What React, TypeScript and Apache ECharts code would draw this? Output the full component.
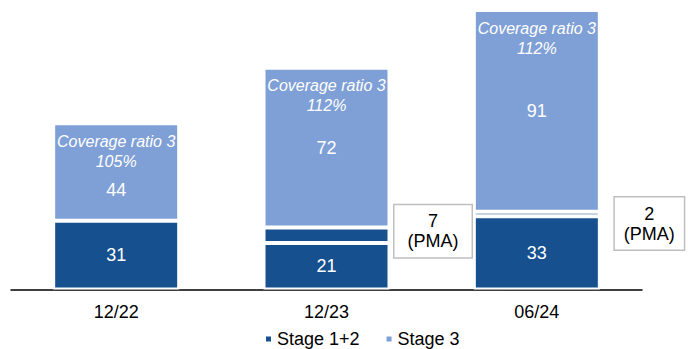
import React, { useEffect, useRef } from "react";
import * as echarts from "echarts";

const categories = ["12/22", "12/23", "06/24"];
const stage12 = [31, 21, 33];
const pma: (number | string)[] = ["-", 7, 2];
const stage3 = [44, 72, 91];
const coverage = ["105%", "112%", "112%"];
const totals = [75, 100, 126];

const DARK = "#16508F";
const LIGHT = "#7FA0D6";
const FONT = "'Liberation Sans', Arial, sans-serif";

export default function App() {
  const ref = useRef<HTMLDivElement>(null);
  useEffect(() => {
    if (!ref.current) return;
    const chart = echarts.init(ref.current, undefined, { renderer: "svg" });
    const border = { borderColor: "#ffffff", borderWidth: 2 };
    chart.setOption({
      animation: false,
      textStyle: { fontFamily: FONT },
      grid: { left: 11, right: 46, top: 10, bottom: 59.5 },
      legend: {
        data: ["Stage 1+2", "Stage 3"],
        left: 259,
        top: 325,
        icon: "rect",
        itemWidth: 7,
        itemHeight: 7,
        itemGap: 25,
        textStyle: { fontSize: 18, color: "#000", fontFamily: FONT },
      },
      xAxis: {
        type: "category",
        data: categories,
        axisLine: { lineStyle: { color: "#000", width: 1.5 } },
        axisTick: { show: false },
        axisLabel: { fontSize: 18, color: "#000", margin: 13, fontFamily: FONT },
      },
      yAxis: {
        type: "value",
        min: 0,
        max: 126,
        show: false,
        splitLine: { show: false },
      },
      series: [
        {
          name: "Stage 1+2",
          type: "bar",
          stack: "a",
          barWidth: 126,
          data: stage12,
          itemStyle: { color: DARK, ...border },
          label: { show: true, position: "inside", color: "#fff", fontSize: 18, fontFamily: FONT },
        },
        {
          name: "PMA",
          type: "bar",
          stack: "a",
          barWidth: 126,
          data: pma.map((v, i) =>
            i === 1
              ? { value: v, label: { distance: 5, offset: [38.5, -4], padding: [6, 13] } }
              : i === 2
              ? { value: v, label: { distance: 15, offset: [34.5, 9.5], padding: [6, 9] } }
              : v
          ),
          itemStyle: { color: DARK, ...border },
          label: {
            show: true,
            position: "right",
            distance: 5,
            formatter: "{c}\n(PMA)",
            color: "#000",
            fontSize: 18,
            lineHeight: 20,
            align: "center",
            fontFamily: FONT,
            backgroundColor: "#fff",
            borderColor: "#BFBFBF",
            borderWidth: 1.5,
            padding: [6, 13],
          },
        },
        {
          name: "Stage 3",
          type: "bar",
          stack: "a",
          barWidth: 126,
          data: stage3.map((v, i) => (i === 0 ? { value: v, label: { offset: [0, 18] } } : v)),
          itemStyle: { color: LIGHT, ...border },
          label: { show: true, position: "inside", color: "#fff", fontSize: 18, fontFamily: FONT },
        },
        {
          name: "Coverage",
          type: "bar",
          barWidth: 126,
          barGap: "-100%",
          z: 5,
          data: totals,
          itemStyle: { color: "rgba(0,0,0,0)" },
          label: {
            show: true,
            position: "insideTop",
            distance: 8,
            formatter: (p: any) => "Coverage ratio 3\n" + coverage[p.dataIndex],
            color: "#fff",
            fontStyle: "italic",
            fontSize: 16,
            lineHeight: 20,
            fontFamily: FONT,
          },
        },
      ],
    });
    return () => chart.dispose();
  }, []);
  return (
    <div
      ref={ref}
      style={{ position: "fixed", left: 0, top: 0, width: 688, height: 349, background: "#fff" }}
    />
  );
}
